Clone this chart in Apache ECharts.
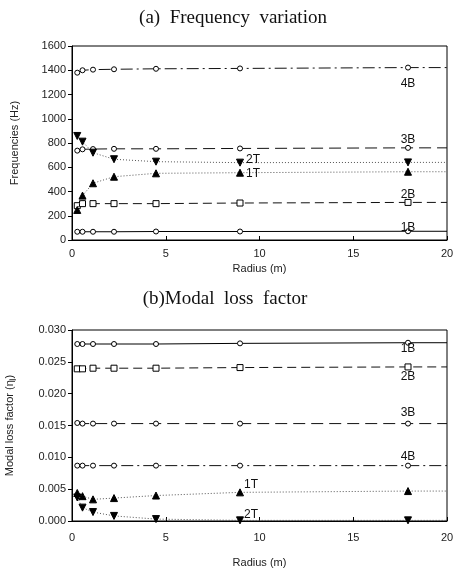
<!DOCTYPE html>
<html><head><meta charset="utf-8">
<script src="https://cdn.jsdelivr.net/npm/echarts@6/dist/echarts.min.js"></script>
<style>html,body{margin:0;padding:0;background:#fff}#c{width:457px;height:569px}</style>
</head><body><div id="c"></div>
<script>
// ---- data ----
const radius = [0.28, 0.56, 1.12, 2.24, 4.48, 8.96, 17.92];
const xEnd = 20;
const xTicks = [0, 5, 10, 15, 20];
// (a) frequencies (Hz)
const f1B = [68, 68, 68, 68, 70, 70, 72];
const f2B = [283, 300, 300, 300, 300, 305, 310];
const f3B = [737, 748, 750, 752, 752, 755, 760];
const f4B = [1380, 1400, 1405, 1408, 1412, 1415, 1422];
const f1T = [248, 366, 468, 522, 550, 555, 563];
const f2T = [858, 811, 720, 666, 646, 638, 640];
// (b) modal loss factor
const e1B = [0.0278, 0.0278, 0.0278, 0.0278, 0.0278, 0.0279, 0.0280];
const e2B = [0.0239, 0.0239, 0.0240, 0.0240, 0.0240, 0.0241, 0.0242];
const e3B = [0.0154, 0.0153, 0.0153, 0.0153, 0.0153, 0.0153, 0.0153];
const e4B = [0.0087, 0.0087, 0.0087, 0.0087, 0.0087, 0.0087, 0.0087];
const e1T = [0.0044, 0.0039, 0.0034, 0.0036, 0.0040, 0.0045, 0.0047];
const e2T = [0.0037, 0.0021, 0.0014, 0.0008, 0.0003, 0.0001, 0.0001];

const styles = {
  '1B': {type: 'solid', sym: 'circle', fill: '#fff', size: 5},
  '2B': {type: [9, 5], sym: 'rect', fill: '#fff', size: 6},
  '3B': {type: [12, 6], sym: 'circle', fill: '#fff', size: 5},
  '4B': {type: [12, 4, 2, 4], sym: 'circle', fill: '#fff', size: 5},
  '1T': {type: [1, 2], sym: 'triangle', fill: '#000', size: 7},
  '2T': {type: [1, 2], sym: 'path://M0,0L10,0L5,9Z', fill: '#000', size: 7}
};

function mk(name, vals, gi, labIdx, labPos, labOff) {
  const st = styles[name];
  const data = vals.map((v, i) => {
    const d = {value: [radius[i], v]};
    if (i === labIdx) {
      d.label = {show: true, formatter: name, position: labPos, offset: labOff,
        fontFamily: 'Liberation Sans', fontSize: 12, color: '#111'};
    }
    return d;
  });
  data.push({value: [xEnd, vals[vals.length - 1]], symbol: 'none'});
  return {
    type: 'line', name: name + gi, xAxisIndex: gi, yAxisIndex: gi, data: data,
    symbol: st.sym, symbolSize: st.size, showAllSymbol: true,
    itemStyle: {color: st.fill, borderColor: '#000', borderWidth: 1},
    lineStyle: {color: st.type === 'solid' ? '#000' : (name.endsWith('T') ? '#555' : '#111'), width: 1, type: st.type},
    emphasis: {disabled: true}, animation: false, z: name.endsWith('T') ? 3 : 2
  };
}

const axisFont = {fontFamily: 'Liberation Sans', fontSize: 11, color: '#222'};
function xAx(gi, gap, margin) {
  return {type: 'value', gridIndex: gi, min: xTicks[0], max: xTicks[xTicks.length - 1], interval: 5,
    name: 'Radius (m)', nameLocation: 'middle', nameGap: gap,
    nameTextStyle: {fontFamily: 'Liberation Sans', fontSize: 11, color: '#222'},
    axisLine: {lineStyle: {color: '#000', width: 1}}, axisTick: {inside: true, length: 4, lineStyle: {color: '#000'}},
    axisLabel: Object.assign({margin: margin}, axisFont), splitLine: {show: false}};
}

const chart = echarts.init(document.getElementById('c'), null, {renderer: 'canvas'});
chart.setOption({
  backgroundColor: '#fff',
  animation: false,
  title: [
    {text: '(a)  Frequency  variation', left: 228, top: 4, textAlign: 'center',
      textStyle: {fontFamily: 'Liberation Serif', fontSize: 19, fontWeight: 'normal', color: '#111'}},
    {text: '(b)Modal  loss  factor', left: 220, top: 285, textAlign: 'center',
      textStyle: {fontFamily: 'Liberation Serif', fontSize: 19, fontWeight: 'normal', color: '#111'}}
  ],
  grid: [
    {left: 72, width: 375, top: 46, height: 194, show: true, borderColor: '#000', borderWidth: 1, outerBoundsMode: 'none', containLabel: false},
    {left: 72, width: 375, top: 330, height: 191, show: true, borderColor: '#000', borderWidth: 1, outerBoundsMode: 'none', containLabel: false}
  ],
  xAxis: [xAx(0, 23, 8), xAx(1, 36, 11)],
  yAxis: [
    {type: 'value', gridIndex: 0, min: 0, max: 1600, interval: 200,
      name: 'Frequencies (Hz)', nameLocation: 'middle', nameGap: 52,
      nameTextStyle: {fontFamily: 'Liberation Sans', fontSize: 11, color: '#222'},
      axisLine: {show: true, lineStyle: {color: '#000'}}, axisTick: {show: true, length: 4, lineStyle: {color: '#000'}},
      axisLabel: Object.assign({margin: 6, formatter: v => String(v)}, axisFont), splitLine: {show: false}},
    {type: 'value', gridIndex: 1, min: 0, max: 0.030, interval: 0.005,
      name: 'Modal loss factor (η{sub|j})', nameLocation: 'middle', nameGap: 56,
      nameTextStyle: {fontFamily: 'Liberation Sans', fontSize: 11, color: '#222',
        rich: {sub: {fontFamily: 'Liberation Sans', fontSize: 8, color: '#222', verticalAlign: 'bottom', padding: [4, 0, 0, 0]}}},
      axisLine: {show: true, lineStyle: {color: '#000'}}, axisTick: {show: true, length: 4, lineStyle: {color: '#000'}},
      axisLabel: Object.assign({margin: 6, formatter: v => v.toFixed(3)}, axisFont), splitLine: {show: false}}
  ],
  series: [
    mk('1B', f1B, 0, 6, 'top', [0, 10]),
    mk('2B', f2B, 0, 6, 'top', [0, 7]),
    mk('3B', f3B, 0, 6, 'top', [0, 6]),
    mk('4B', f4B, 0, 6, 'bottom', [0, 2]),
    mk('1T', f1T, 0, 5, 'right', [-3, 1]),
    mk('2T', f2T, 0, 5, 'right', [-3, -3]),
    mk('1B', e1B, 1, 6, 'bottom', [0, -8]),
    mk('2B', e2B, 1, 6, 'bottom', [0, -5]),
    mk('3B', e3B, 1, 6, 'top', [0, 3]),
    mk('4B', e4B, 1, 6, 'top', [0, 5]),
    mk('1T', e1T, 1, 5, 'top', [11, 7]),
    mk('2T', e2T, 1, 5, 'top', [11, 9])
  ]
});
</script></body></html>
